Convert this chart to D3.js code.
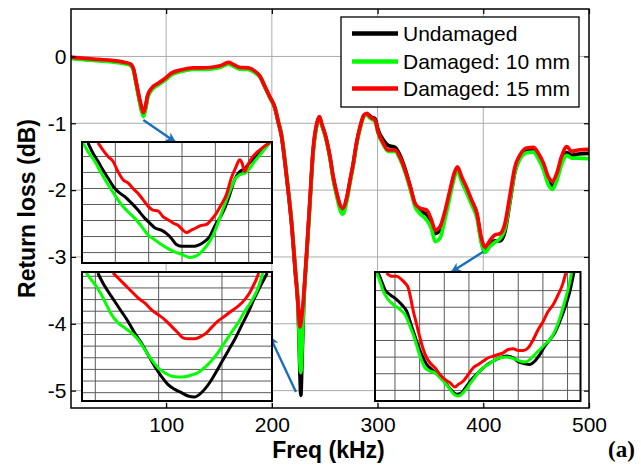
<!DOCTYPE html>
<html>
<head>
<meta charset="utf-8">
<script src="https://cdn.jsdelivr.net/npm/d3@7"></script>
<style>
  body { margin: 0; background: #fff; }
  svg { display: block; }
  text { font-family: "Liberation Sans", Arial, sans-serif; }
</style>
</head>
<body>
<svg id="chart" width="641" height="467"></svg>
<script>
// ---- Return-loss spectra (dB) against frequency (kHz) ----
const freqKHz = [10, 23, 36, 48.5, 59.5, 66, 69, 71, 73.5, 76,
  78.5, 80.5, 82.5, 86, 92.5, 99, 105, 114.5, 125.5, 132,
  141.5, 151, 159, 163.5, 170, 177.5, 184, 189, 193.5, 198,
  203, 206, 209, 214, 219, 222, 225, 226.6, 227.4, 228.5,
  230, 233, 236, 239, 242.5, 245, 247, 251, 255, 258,
  261.5, 264.5, 267, 271, 274, 277, 280, 283.5, 287, 290,
  291, 294.5, 297.5, 300.5, 305.5, 310, 316.5, 321, 326, 331,
  335.5, 340, 346.5, 351, 354.5, 359, 364, 368.5, 372.5, 375.5,
  379.5, 384.5, 389, 394, 398, 401.5, 406.5, 411, 416, 420.5,
  425, 430, 434.5, 441, 447.5, 452, 457, 461.5, 465.5, 469.5,
  474, 479, 483.5, 490, 500];

const undamaged = [-0.02, -0.04, -0.055, -0.07, -0.095, -0.12, -0.19, -0.34, -0.55, -0.74,
  -0.87, -0.77, -0.60, -0.49, -0.415, -0.345, -0.265, -0.215, -0.185, -0.185,
  -0.18, -0.155, -0.105, -0.135, -0.18, -0.185, -0.235, -0.31, -0.46, -0.61,
  -0.78, -0.98, -1.18, -1.81, -2.57, -3.20, -3.85, -4.75, -5.07, -4.55,
  -3.75, -2.95, -2.18, -1.43, -1.02, -0.91, -1.01, -1.21, -1.51, -1.81,
  -2.07, -2.24, -2.30, -2.12, -1.86, -1.61, -1.31, -1.06, -0.89, -0.86,
  -0.87, -0.91, -0.93, -1.10, -1.25, -1.33, -1.36, -1.47, -1.68, -1.96,
  -2.22, -2.32, -2.36, -2.50, -2.65, -2.60, -2.35, -2.04, -1.78, -1.68,
  -1.83, -2.00, -2.17, -2.37, -2.75, -2.92, -2.82, -2.76, -2.76, -2.62,
  -2.20, -1.72, -1.52, -1.41, -1.40, -1.50, -1.66, -1.86, -1.93, -1.82,
  -1.58, -1.44, -1.48, -1.46, -1.45];

const damaged10 = [-0.03, -0.05, -0.065, -0.08, -0.105, -0.13, -0.20, -0.36, -0.57, -0.77,
  -0.90, -0.80, -0.62, -0.51, -0.425, -0.355, -0.275, -0.225, -0.195, -0.195,
  -0.19, -0.165, -0.115, -0.145, -0.19, -0.195, -0.245, -0.31, -0.46, -0.61,
  -0.78, -0.97, -1.16, -1.78, -2.52, -3.13, -3.78, -4.60, -4.73, -4.40,
  -3.72, -2.95, -2.20, -1.45, -1.03, -0.92, -1.02, -1.22, -1.53, -1.84,
  -2.10, -2.30, -2.36, -2.16, -1.89, -1.63, -1.33, -1.08, -0.90, -0.87,
  -0.89, -0.94, -0.97, -1.15, -1.32, -1.42, -1.42, -1.53, -1.73, -1.99,
  -2.25, -2.35, -2.45, -2.58, -2.77, -2.72, -2.42, -2.10, -1.82, -1.71,
  -1.87, -2.05, -2.22, -2.42, -2.78, -2.93, -2.84, -2.78, -2.72, -2.58,
  -2.18, -1.72, -1.54, -1.44, -1.43, -1.53, -1.70, -1.92, -1.99, -1.86,
  -1.62, -1.48, -1.52, -1.52, -1.53];

const damaged15 = [-0.01, -0.03, -0.045, -0.06, -0.085, -0.11, -0.18, -0.33, -0.53, -0.71,
  -0.84, -0.74, -0.58, -0.48, -0.40, -0.33, -0.25, -0.20, -0.17, -0.17,
  -0.165, -0.14, -0.09, -0.12, -0.165, -0.17, -0.22, -0.30, -0.45, -0.60,
  -0.77, -0.97, -1.17, -1.80, -2.55, -3.15, -3.75, -4.05, -4.00, -3.85,
  -3.60, -2.90, -2.15, -1.40, -1.00, -0.90, -1.00, -1.20, -1.50, -1.80,
  -2.05, -2.22, -2.27, -2.10, -1.85, -1.60, -1.30, -1.05, -0.88, -0.85,
  -0.87, -0.92, -0.95, -1.13, -1.30, -1.40, -1.40, -1.50, -1.70, -1.95,
  -2.20, -2.27, -2.30, -2.45, -2.60, -2.55, -2.30, -2.00, -1.75, -1.65,
  -1.80, -1.97, -2.15, -2.35, -2.70, -2.85, -2.75, -2.67, -2.65, -2.50,
  -2.10, -1.65, -1.48, -1.37, -1.36, -1.45, -1.60, -1.80, -1.87, -1.75,
  -1.50, -1.35, -1.42, -1.40, -1.39];

const seriesNames = ["Undamaged", "Damaged: 10 mm", "Damaged: 15 mm"];
const seriesColors = ["#000000", "#00ff00", "#ff0000"];

const xTicks = [100, 200, 300, 400, 500];
const yTicks = [0, -1, -2, -3, -4, -5];

// ---- Zoomed views of the three resonance dips: [kHz, dB] ----
const lowDipUndamaged = [[73.36,-0.803],[73.66,-0.816],[73.96,-0.826],[74.26,-0.837],[74.56,-0.847],[74.86,-0.857],[75.16,-0.864],[75.56,-0.870],[75.96,-0.878],[76.36,-0.887],[76.76,-0.897],[77.06,-0.903],[77.36,-0.909],[77.76,-0.912],[78.06,-0.916],[78.36,-0.922],[78.66,-0.930],[78.96,-0.932],[79.36,-0.932],[79.76,-0.932],[80.06,-0.930],[80.36,-0.926],[80.66,-0.920],[80.96,-0.907],[81.26,-0.897],[81.56,-0.885],[81.86,-0.868],[82.16,-0.849],[82.46,-0.839],[82.76,-0.835],[83.06,-0.828],[83.36,-0.822],[83.76,-0.814],[84.26,-0.803]];
const lowDipDamaged10 = [[73.06,-0.803],[73.36,-0.814],[73.76,-0.826],[74.16,-0.841],[74.56,-0.855],[74.96,-0.868],[75.36,-0.880],[75.76,-0.889],[76.16,-0.897],[76.56,-0.907],[76.96,-0.918],[77.36,-0.924],[77.76,-0.930],[78.16,-0.935],[78.56,-0.939],[78.96,-0.942],[79.46,-0.946],[79.86,-0.944],[80.26,-0.937],[80.66,-0.926],[80.96,-0.914],[81.26,-0.897],[81.56,-0.880],[81.86,-0.864],[82.16,-0.849],[82.46,-0.843],[82.76,-0.841],[83.06,-0.835],[83.36,-0.826],[83.76,-0.816],[84.26,-0.803]];
const lowDipDamaged15 = [[73.96,-0.803],[74.26,-0.812],[74.56,-0.820],[74.86,-0.826],[75.16,-0.839],[75.46,-0.849],[75.76,-0.853],[76.06,-0.860],[76.36,-0.866],[76.66,-0.874],[76.96,-0.882],[77.26,-0.887],[77.56,-0.888],[77.86,-0.895],[78.16,-0.899],[78.46,-0.903],[78.76,-0.906],[79.06,-0.912],[79.26,-0.915],[79.56,-0.912],[79.86,-0.909],[80.16,-0.906],[80.46,-0.905],[80.76,-0.899],[81.06,-0.891],[81.36,-0.880],[81.66,-0.868],[81.96,-0.847],[82.26,-0.832],[82.46,-0.824],[82.60,-0.828],[82.76,-0.839],[82.96,-0.830],[83.26,-0.820],[83.66,-0.812],[83.96,-0.807],[84.26,-0.803]];
const lowDipGridX = [75, 77, 79, 81, 83];
const lowDipGridY = [-0.82, -0.84, -0.86, -0.88, -0.90, -0.92, -0.94];

const deepDipUndamaged = [[225.08,-2.943],[225.24,-3.114],[225.40,-3.257],[225.61,-3.429],[225.82,-3.600],[226.03,-3.771],[226.24,-3.971],[226.45,-4.143],[226.66,-4.343],[226.87,-4.543],[227.08,-4.714],[227.29,-4.857],[227.51,-4.943],[227.72,-5.000],[227.93,-5.057],[228.14,-5.074],[228.29,-5.029],[228.45,-4.943],[228.61,-4.829],[228.77,-4.686],[228.98,-4.486],[229.19,-4.286],[229.40,-4.086],[229.61,-3.857],[229.82,-3.629],[230.03,-3.371],[230.24,-3.143],[230.43,-2.943]];
const deepDipDamaged10 = [[224.72,-2.943],[224.87,-3.057],[225.03,-3.171],[225.19,-3.314],[225.35,-3.486],[225.51,-3.657],[225.72,-3.800],[225.93,-3.886],[226.14,-3.971],[226.35,-4.086],[226.56,-4.257],[226.77,-4.429],[226.98,-4.571],[227.19,-4.657],[227.40,-4.714],[227.61,-4.731],[227.82,-4.726],[228.03,-4.697],[228.24,-4.657],[228.45,-4.571],[228.66,-4.457],[228.87,-4.314],[229.08,-4.143],[229.29,-3.971],[229.51,-3.800],[229.72,-3.600],[229.93,-3.429],[230.14,-3.200],[230.29,-2.943]];
const deepDipDamaged15 = [[225.56,-2.943],[225.72,-3.029],[225.93,-3.143],[226.14,-3.257],[226.35,-3.371],[226.56,-3.457],[226.77,-3.571],[226.98,-3.657],[227.19,-3.743],[227.40,-3.857],[227.61,-3.971],[227.77,-4.057],[227.93,-4.074],[228.14,-4.074],[228.35,-4.029],[228.51,-3.971],[228.66,-3.886],[228.87,-3.771],[229.08,-3.686],[229.29,-3.600],[229.51,-3.514],[229.72,-3.400],[229.87,-3.286],[229.98,-3.171],[230.08,-3.057],[230.16,-2.943]];
const deepDipGridX = [225, 227, 229];
const deepDipGridY = [-3.0, -3.2, -3.4, -3.6, -3.8, -4.0, -4.2, -4.4, -4.6, -4.8, -5.0];

const highDipUndamaged = [[388.65,-2.294],[388.92,-2.344],[389.19,-2.394],[389.59,-2.424],[390.14,-2.454],[390.54,-2.484],[390.95,-2.524],[391.35,-2.614],[391.76,-2.704],[392.16,-2.784],[392.57,-2.844],[392.97,-2.874],[393.38,-2.900],[393.78,-2.924],[394.19,-2.964],[394.59,-3.000],[395.00,-3.024],[395.41,-3.014],[395.81,-2.974],[396.22,-2.934],[396.62,-2.904],[397.03,-2.874],[397.43,-2.848],[397.97,-2.824],[398.51,-2.804],[399.05,-2.794],[399.59,-2.804],[400.00,-2.828],[400.54,-2.840],[400.95,-2.844],[401.35,-2.824],[401.76,-2.784],[402.16,-2.734],[402.57,-2.694],[402.97,-2.654],[403.38,-2.584],[403.78,-2.504],[404.19,-2.404],[404.51,-2.294]];
const highDipDamaged10 = [[388.51,-2.294],[388.78,-2.344],[389.05,-2.404],[389.46,-2.454],[389.86,-2.484],[390.41,-2.514],[390.81,-2.544],[391.22,-2.614],[391.62,-2.694],[392.03,-2.794],[392.43,-2.864],[392.84,-2.884],[393.24,-2.894],[393.65,-2.924],[394.05,-2.954],[394.46,-2.994],[394.86,-3.028],[395.14,-3.034],[395.54,-3.014],[395.95,-2.974],[396.35,-2.934],[396.76,-2.894],[397.16,-2.864],[397.57,-2.844],[397.97,-2.824],[398.51,-2.804],[399.05,-2.800],[399.59,-2.808],[400.14,-2.824],[400.54,-2.830],[400.95,-2.814],[401.35,-2.784],[401.76,-2.754],[402.16,-2.724],[402.57,-2.694],[402.97,-2.644],[403.38,-2.564],[403.78,-2.464],[404.19,-2.344],[404.32,-2.294]];
const highDipDamaged15 = [[389.32,-2.294],[389.73,-2.314],[390.14,-2.314],[390.54,-2.334],[390.81,-2.354],[391.08,-2.384],[391.27,-2.444],[391.49,-2.524],[391.76,-2.604],[392.03,-2.684],[392.30,-2.754],[392.57,-2.804],[392.84,-2.834],[393.24,-2.864],[393.65,-2.904],[394.05,-2.934],[394.46,-2.954],[394.86,-2.980],[395.14,-2.964],[395.54,-2.944],[395.95,-2.904],[396.35,-2.864],[396.76,-2.844],[397.16,-2.824],[397.57,-2.804],[397.97,-2.794],[398.38,-2.784],[398.78,-2.774],[399.19,-2.754],[399.59,-2.750],[400.00,-2.760],[400.41,-2.760],[400.81,-2.744],[401.22,-2.694],[401.62,-2.634],[402.03,-2.584],[402.43,-2.524],[402.84,-2.484],[403.24,-2.424],[403.59,-2.364],[403.86,-2.294]];
const highDipGridX = [390, 392, 394, 396, 398, 400, 402, 404];
const highDipGridY = [-2.4, -2.5, -2.6, -2.7, -2.8, -2.9, -3.0];

// Callout arrows from each dip on the main trace to its zoomed panel: [kHz, dB]
const calloutFrom = [[78.4, -0.95], [222.8, -5.02], [400.0, -2.922]];
const calloutTo = [[108.4, -1.275], [198.3, -4.195], [370.1, -3.22]];

// ---- Layout ----
const svg = d3.select("#chart");
const plot = { left: 71, right: 589, top: 9, bottom: 408 };
const x = d3.scaleLinear().domain([10, 500]).range([plot.left, plot.right]);
const y = d3.scaleLinear().domain([0.71, -5.26]).range([plot.top, plot.bottom]);

const defs = svg.append("defs");
defs.append("clipPath").attr("id", "plotClip")
  .append("rect").attr("x", plot.left).attr("y", plot.top)
  .attr("width", plot.right - plot.left).attr("height", plot.bottom - plot.top);
defs.append("marker").attr("id", "arrowHead")
  .attr("viewBox", "0 0 10 10").attr("refX", 9).attr("refY", 5)
  .attr("markerUnits", "userSpaceOnUse")
  .attr("markerWidth", 12).attr("markerHeight", 10)
  .attr("orient", "auto")
  .append("path").attr("d", "M0,0 L10,5 L0,10 L3,5 Z").attr("fill", "#1a6fbd");

svg.append("rect").attr("width", 641).attr("height", 467).attr("fill", "#fff");

// Grid
const grid = svg.append("g").attr("stroke", "#ababab").attr("stroke-width", 1);
grid.selectAll("line.gx").data(xTicks.filter(t => t < 500)).join("line")
  .attr("x1", d => x(d)).attr("x2", d => x(d))
  .attr("y1", plot.top).attr("y2", plot.bottom);
grid.selectAll("line.gy").data(yTicks).join("line")
  .attr("x1", plot.left).attr("x2", plot.right)
  .attr("y1", d => y(d)).attr("y2", d => y(d));

// Main traces
const mainSeries = [undamaged, damaged10, damaged15];
const mainLine = d3.line()
  .x((d, i) => x(freqKHz[i])).y(d => y(d))
  .curve(d3.curveMonotoneX);
svg.append("g").attr("clip-path", "url(#plotClip)")
  .selectAll("path").data(mainSeries).join("path")
  .attr("d", mainLine)
  .attr("fill", "none")
  .attr("stroke", (d, i) => seriesColors[i])
  .attr("stroke-width", 3.7)
  .attr("stroke-linejoin", "round").attr("stroke-linecap", "round");

// Callout arrows
svg.append("g").selectAll("line").data(calloutFrom).join("line")
  .attr("x1", d => x(d[0])).attr("y1", d => y(d[1]))
  .attr("x2", (d, i) => x(calloutTo[i][0])).attr("y2", (d, i) => y(calloutTo[i][1]))
  .attr("stroke", "#1a6fbd").attr("stroke-width", 2.4)
  .attr("marker-end", "url(#arrowHead)");

// Zoom panels
const insets = [
  { id: "zLow", box: [82, 142, 272, 263], xDomain: [73.0, 84.4], yDomain: [-0.802, -0.953],
    gridX: lowDipGridX, gridY: lowDipGridY, series: [lowDipUndamaged, lowDipDamaged10, lowDipDamaged15] },
  { id: "zDeep", box: [82, 272, 272, 401], xDomain: [224.58, 230.58], yDomain: [-2.926, -5.143],
    gridX: deepDipGridX, gridY: deepDipGridY, series: [deepDipUndamaged, deepDipDamaged10, deepDipDamaged15] },
  { id: "zHigh", box: [375, 272, 580.5, 401], xDomain: [388.38, 405.05], yDomain: [-2.288, -3.064],
    gridX: highDipGridX, gridY: highDipGridY, series: [highDipUndamaged, highDipDamaged10, highDipDamaged15] }
];

insets.forEach(p => {
  const [x0, y0, x1, y1] = p.box;
  const ix = d3.scaleLinear().domain(p.xDomain).range([x0, x1]);
  const iy = d3.scaleLinear().domain(p.yDomain).range([y0, y1]);
  defs.append("clipPath").attr("id", p.id + "Clip")
    .append("rect").attr("x", x0).attr("y", y0).attr("width", x1 - x0).attr("height", y1 - y0);
  const g = svg.append("g");
  g.append("rect").attr("x", x0).attr("y", y0).attr("width", x1 - x0).attr("height", y1 - y0)
    .attr("fill", "#fff");
  const gg = g.append("g").attr("stroke", "#5a5a5a").attr("stroke-width", 1);
  gg.selectAll("line.vx").data(p.gridX).join("line")
    .attr("x1", d => ix(d)).attr("x2", d => ix(d)).attr("y1", y0).attr("y2", y1);
  gg.selectAll("line.hy").data(p.gridY).join("line")
    .attr("x1", x0).attr("x2", x1).attr("y1", d => iy(d)).attr("y2", d => iy(d));
  const line = d3.line().x(d => ix(d[0])).y(d => iy(d[1])).curve(d3.curveMonotoneX);
  g.append("g").attr("clip-path", `url(#${p.id}Clip)`)
    .selectAll("path").data(p.series).join("path")
    .attr("d", line).attr("fill", "none")
    .attr("stroke", (d, i) => seriesColors[i])
    .attr("stroke-width", 3).attr("stroke-linejoin", "round");
  g.append("rect").attr("x", x0).attr("y", y0).attr("width", x1 - x0).attr("height", y1 - y0)
    .attr("fill", "none").attr("stroke", "#000").attr("stroke-width", 2);
});

// Axes (MATLAB style: inward ticks on all four sides)
const fs = 21;
const bottomAxis = d3.axisBottom(x).tickValues(xTicks).tickSizeInner(-5).tickSizeOuter(0).tickPadding(9);
const leftAxis = d3.axisLeft(y).tickValues(yTicks).tickSizeInner(-5).tickSizeOuter(0).tickPadding(4.5)
  .tickFormat(d3.format("d"));
const topAxis = d3.axisTop(x).tickValues(xTicks).tickSizeInner(-5).tickSizeOuter(0).tickFormat("");
const rightAxis = d3.axisRight(y).tickValues(yTicks).tickSizeInner(-5).tickSizeOuter(0).tickFormat("");

function styleAxis(g) {
  g.select(".domain").remove();
  g.selectAll(".tick line").attr("stroke", "#000").attr("stroke-width", 1.2);
  g.selectAll(".tick text").attr("fill", "#000").attr("font-size", fs)
    .attr("font-family", '"Liberation Sans", Arial, sans-serif');
}
svg.append("g").attr("transform", `translate(0,${plot.bottom})`).call(bottomAxis).call(styleAxis);
svg.append("g").attr("transform", `translate(${plot.left},0)`).call(leftAxis).call(styleAxis)
  .selectAll(".tick text").text(d => d === 0 ? "0" : "-" + Math.abs(d));
svg.append("g").attr("transform", `translate(0,${plot.top})`).call(topAxis).call(styleAxis);
svg.append("g").attr("transform", `translate(${plot.right},0)`).call(rightAxis).call(styleAxis);

svg.append("rect").attr("x", plot.left).attr("y", plot.top)
  .attr("width", plot.right - plot.left).attr("height", plot.bottom - plot.top)
  .attr("fill", "none").attr("stroke", "#000").attr("stroke-width", 1.5);

// Legend
const legend = svg.append("g");
legend.append("rect").attr("x", 341).attr("y", 17).attr("width", 238).attr("height", 90)
  .attr("fill", "#fff").attr("stroke", "#000").attr("stroke-width", 1.3);
const rowY = [33.5, 61.5, 88.5];
seriesNames.forEach((name, i) => {
  legend.append("line").attr("x1", 352).attr("x2", 398).attr("y1", rowY[i]).attr("y2", rowY[i])
    .attr("stroke", seriesColors[i]).attr("stroke-width", 4.5);
  legend.append("text").attr("x", 403).attr("y", rowY[i] + 7.5)
    .attr("font-size", fs).attr("fill", "#000").text(name);
});

// Axis titles and panel tag
svg.append("text").attr("x", 328.5).attr("y", 458).attr("text-anchor", "middle")
  .attr("font-size", 23).attr("font-weight", "bold").text("Freq (kHz)");
svg.append("text").attr("transform", "translate(35,208.5) rotate(-90)").attr("text-anchor", "middle")
  .attr("font-size", 23).attr("font-weight", "bold").text("Return loss (dB)");
svg.append("text").attr("x", 608).attr("y", 457)
  .style("font-family", '"Liberation Serif", "Times New Roman", serif')
  .attr("font-size", 23).attr("font-weight", "bold").text("(a)");
</script>
</body>
</html>
